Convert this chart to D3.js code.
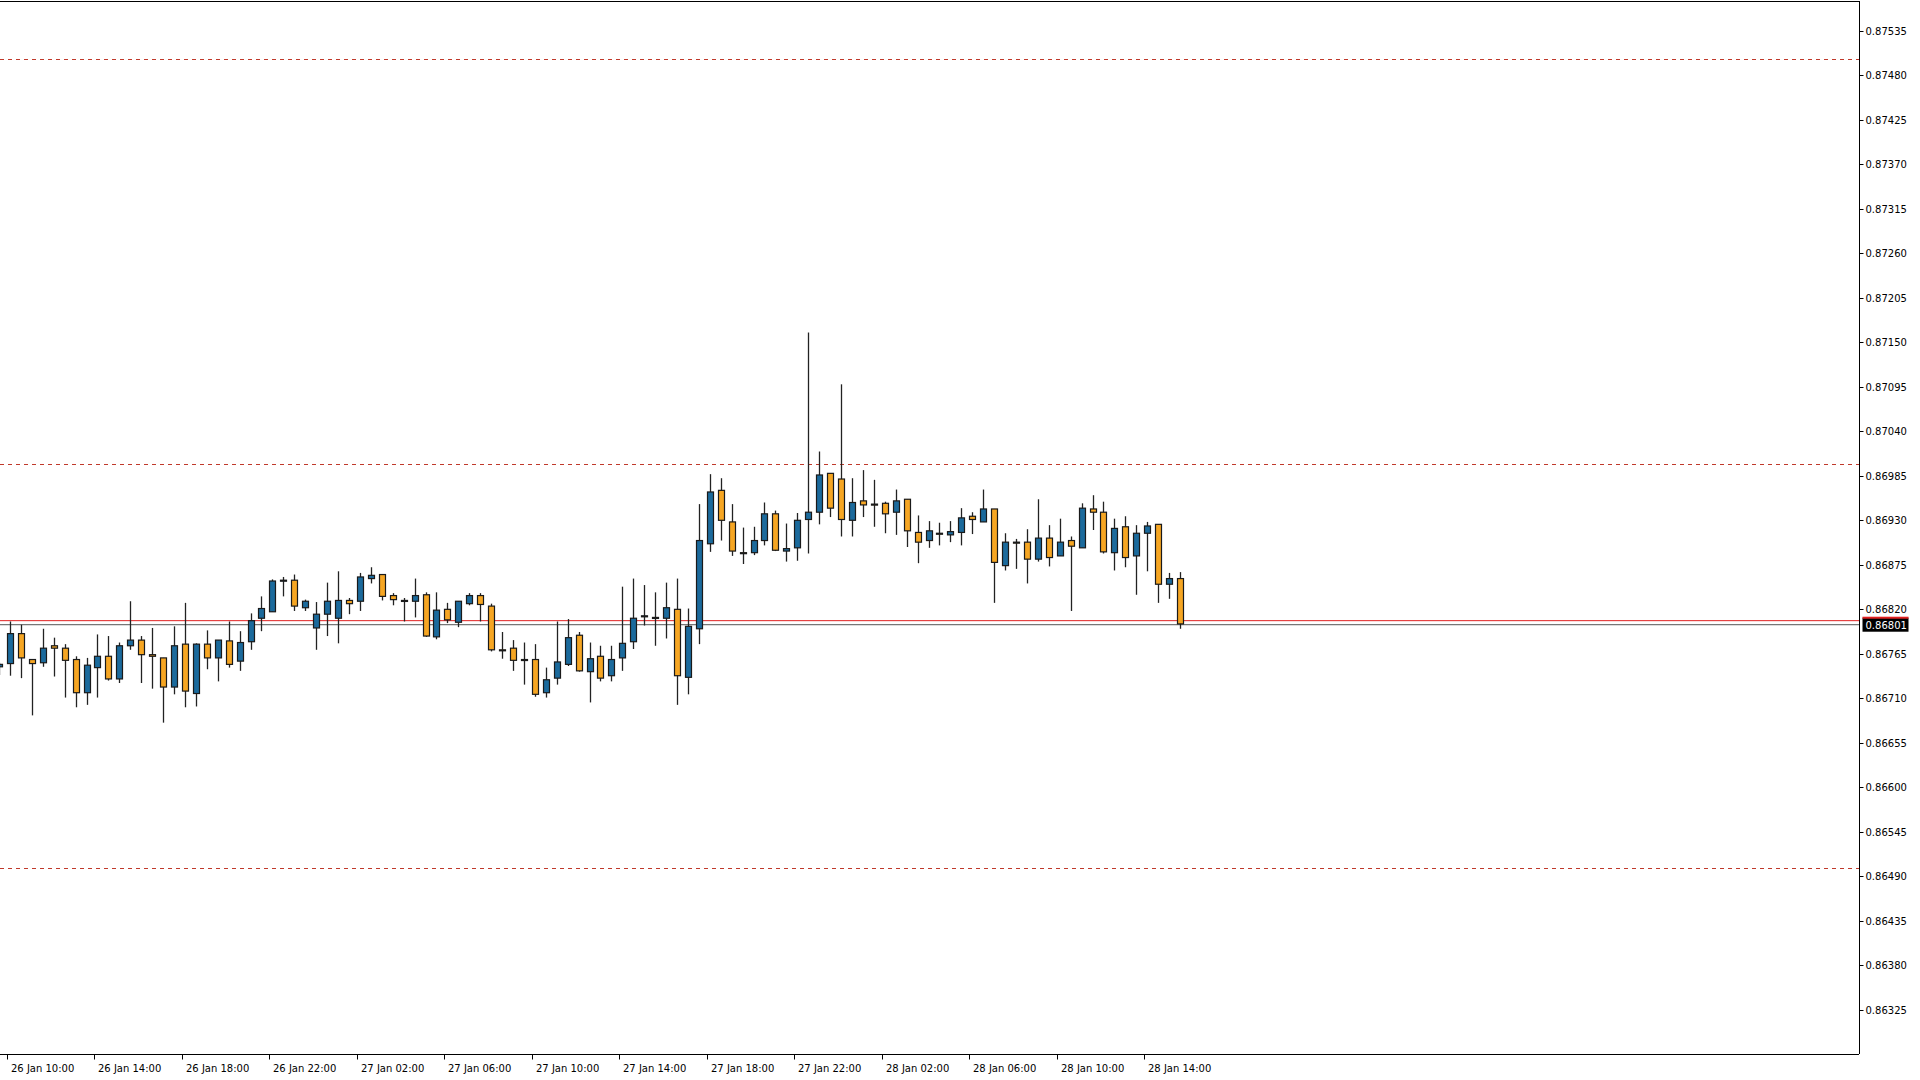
<!DOCTYPE html>
<html lang="en">
<head>
  <meta charset="utf-8">
  <title>EURGBP M30</title>
  <script src="https://cdn.jsdelivr.net/npm/d3@7"></script>
  <style>
    body { margin: 0; background: #fff; }
    text { font-family: "DejaVu Sans", sans-serif; font-size: 10px; fill: #000; }
  </style>
</head>
<body>
<svg id="chart" width="1920" height="1080"></svg>
<script>
// 30-minute candles, starting 26 Jan 09:30 (prices in 1e-5 units)
var opens  = [86749,86753,86790,86758,86754,86775,86772,86758,86717,86748,86762,86734,86775,86782,86764,86760,86724,86777,86716,86777,86760,86781,86756,86780,86809,86817,86855,86856,86822,86797,86814,86809,86831,86830,86858,86863,86837,86831,86830,86838,86786,86820,86804,86827,86837,86824,86770,86772,86758,86758,86717,86735,86752,86788,86743,86762,86738,86760,86780,86811,86810,86809,86820,86736,86796,86901,86967,86928,86890,86890,86905,86938,86892,86896,86931,86940,86988,86981,86930,86954,86950,86951,86940,86956,86915,86905,86914,86912,86915,86935,86928,86944,86874,86903,86903,86882,86908,86886,86905,86896,86944,86940,86890,86922,86886,86914,86925,86851,86858];
var highs  = [86754,86805,86801,86758,86796,86785,86777,86762,86760,86789,86787,86779,86830,86787,86797,86760,86799,86828,86778,86794,86782,86805,86793,86815,86836,86857,86860,86863,86832,86829,86853,86867,86834,86865,86872,86863,86840,86834,86858,86841,86841,86828,86830,86840,86840,86827,86792,86782,86779,86777,86748,86805,86808,86792,86779,86775,86775,86848,86858,86850,86841,86853,86858,86821,86950,86987,86982,86950,86921,86922,86952,86942,86926,86939,87162,87015,86988,87098,86982,86992,86980,86953,86968,86956,86936,86929,86927,86929,86945,86940,86968,86944,86914,86907,86919,86956,86924,86932,86910,86951,86961,86953,86932,86935,86924,86928,86925,86865,86866];
var lows   = [86739,86738,86735,86689,86749,86737,86711,86699,86702,86711,86732,86729,86770,86729,86722,86680,86715,86699,86700,86746,86731,86748,86744,86770,86793,86817,86836,86818,86818,86770,86787,86778,86814,86818,86852,86831,86825,86805,86810,86786,86783,86803,86798,86825,86805,86768,86759,86744,86727,86712,86711,86727,86750,86743,86705,86731,86731,86744,86771,86800,86775,86784,86702,86715,86777,86891,86905,86886,86876,86887,86899,86892,86879,86880,86889,86925,86934,86910,86910,86934,86922,86914,86912,86897,86877,86896,86899,86903,86899,86913,86928,86828,86868,86870,86852,86879,86873,86886,86818,86896,86918,86889,86868,86872,86838,86867,86828,86833,86796];
var closes = [86752,86790,86760,86753,86772,86772,86757,86717,86751,86762,86734,86775,86782,86764,86762,86724,86775,86719,86777,86760,86782,86752,86779,86806,86821,86855,86856,86824,86830,86814,86830,86831,86827,86860,86862,86836,86832,86830,86837,86787,86819,86807,86830,86837,86826,86770,86769,86757,86757,86715,86733,86755,86785,86744,86759,86735,86758,86778,86809,86812,86809,86822,86738,86799,86905,86965,86930,86892,86889,86905,86938,86893,86895,86930,86940,86986,86945,86931,86952,86949,86949,86938,86954,86917,86903,86917,86913,86916,86933,86931,86944,86878,86903,86902,86882,86908,86884,86903,86898,86945,86940,86891,86920,86884,86914,86923,86851,86858,86802];
var startTime = new Date(2024, 0, 26, 9, 30);
var axisTicks = [0.87535,0.87480,0.87425,0.87370,0.87315,0.87260,0.87205,0.87150,0.87095,0.87040,0.86985,0.86930,0.86875,0.86820,0.86765,0.86710,0.86655,0.86600,0.86545,0.86490,0.86435,0.86380,0.86325];
var dashedLevels = [0.87500, 0.87000, 0.86500];
var bidPrice = 0.86801, askPrice = 0.86806;

var svg = d3.select("#chart");
var plotW = 1859, plotH = 1054;

var y = d3.scaleLinear().domain([0.86325, 0.87535]).range([1010, 30.6]);
var x = d3.scaleLinear().domain([1, 108]).range([10, 1180]);

var candles = opens.map(function (o, i) {
  return { i: i, t: new Date(+startTime + i * 1800000), o: o / 1e5, h: highs[i] / 1e5, l: lows[i] / 1e5, c: closes[i] / 1e5 };
});

// frame
svg.append("line").attr("x1", 0).attr("x2", plotW).attr("y1", 1.5).attr("y2", 1.5).attr("stroke", "#000");
svg.append("line").attr("x1", plotW + 0.5).attr("x2", plotW + 0.5).attr("y1", 1).attr("y2", plotH).attr("stroke", "#000");
svg.append("line").attr("x1", 0).attr("x2", plotW).attr("y1", plotH + 0.5).attr("y2", plotH + 0.5).attr("stroke", "#000");

// dashed levels
svg.selectAll(".lvl").data(dashedLevels).enter().append("line")
  .attr("x1", 0).attr("x2", plotW)
  .attr("y1", function (d) { return Math.round(y(d)) + 0.5; })
  .attr("y2", function (d) { return Math.round(y(d)) + 0.5; })
  .attr("stroke", "#c0392b").attr("stroke-dasharray", "4,4");

// bid / ask lines
svg.append("line").attr("x1", 0).attr("x2", plotW).attr("y1", y(askPrice)).attr("y2", y(askPrice)).attr("stroke", "#e02020");
svg.append("line").attr("x1", 0).attr("x2", plotW).attr("y1", y(bidPrice)).attr("y2", y(bidPrice)).attr("stroke", "#555");

// candles
var g = svg.append("g").attr("clip-path", "url(#clip)");
svg.append("clipPath").attr("id", "clip").append("rect").attr("width", plotW).attr("height", plotH);
var cg = g.selectAll(".c").data(candles).enter().append("g");
cg.append("line")
  .attr("x1", function (d) { return Math.round(x(d.i)) + 0.5; })
  .attr("x2", function (d) { return Math.round(x(d.i)) + 0.5; })
  .attr("y1", function (d) { return y(d.h); })
  .attr("y2", function (d) { return y(d.l); })
  .attr("stroke", "#222").attr("stroke-width", 1.3);
cg.append("rect")
  .attr("x", function (d) { return Math.round(x(d.i)) - 2.5; })
  .attr("width", 6)
  .attr("y", function (d) { return y(Math.max(d.o, d.c)); })
  .attr("height", function (d) { return Math.max(1, Math.abs(y(d.o) - y(d.c))); })
  .attr("fill", function (d) { return d.c >= d.o ? "#1b6a9c" : "#f6a623"; })
  .attr("stroke", "#1a1a1a").attr("stroke-width", 1.2);

// right price axis
var yAxis = svg.append("g").attr("transform", "translate(" + (plotW + 0.5) + ",0)");
yAxis.selectAll(".t").data(axisTicks).enter().append("line")
  .attr("x1", 0).attr("x2", 4)
  .attr("y1", function (d) { return Math.round(y(d)) + 0.5; })
  .attr("y2", function (d) { return Math.round(y(d)) + 0.5; })
  .attr("stroke", "#000");
yAxis.selectAll(".l").data(axisTicks).enter().append("text")
  .attr("x", 6).attr("y", function (d) { return y(d) + 4; })
  .text(function (d) { return d.toFixed(5); });

// current price label
var py = y(bidPrice);
yAxis.append("rect").attr("x", 3).attr("y", py - 7).attr("width", 46).attr("height", 14).attr("fill", "#000");
yAxis.append("rect").attr("x", 3).attr("y", py - 8).attr("width", 46).attr("height", 2).attr("fill", "#e02020");
yAxis.append("text").attr("x", 6).attr("y", py + 4).style("fill", "#fff").text(bidPrice.toFixed(5));

// bottom time axis: label every 8 bars (4 hours) from 26 Jan 10:00
var fmt = d3.timeFormat("%d %b %H:%M");
var tickBars = candles.filter(function (d) { return d.i >= 1 && (d.i - 1) % 8 === 0; });
var xAxis = svg.append("g").attr("transform", "translate(0," + (plotH + 0.5) + ")");
xAxis.selectAll(".t").data(tickBars).enter().append("line")
  .attr("x1", function (d) { return Math.round(x(d.i)) - 2.5; })
  .attr("x2", function (d) { return Math.round(x(d.i)) - 2.5; })
  .attr("y1", 0).attr("y2", 5).attr("stroke", "#000");
xAxis.selectAll(".l").data(tickBars).enter().append("text")
  .attr("x", function (d) { return Math.round(x(d.i)) + 1; })
  .attr("y", 17)
  .text(function (d) { return fmt(d.t); });
</script>
</body>
</html>
